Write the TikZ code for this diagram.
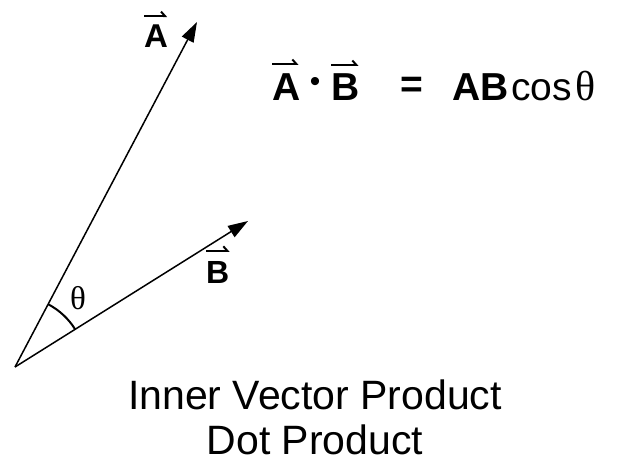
\documentclass[tikz,border=0pt]{standalone}
\usepackage{fontspec}
\setmainfont{Liberation Sans}
\newfontfamily\greekserif{Liberation Serif}
\usetikzlibrary{arrows.meta}
\begin{document}
\begin{tikzpicture}[x=1pt,y=1pt,
  vecline/.style={line width=1.5pt,-{Triangle[length=20pt,width=13pt]}},
  lbl/.style={inner sep=0pt, anchor=base west},
  harp/.style={line width=2pt,-{Straight Barb[harpoon,length=4pt,width=9pt]}},
  boldbig/.style={font=\bfseries\fontsize{39}{44}\selectfont},
  caption/.style={inner sep=0pt, anchor=base, font=\fontsize{41}{47}\selectfont}]
\useasboundingbox (0,0) rectangle (617,464);
% vectors
\coordinate (O) at (15,97);
\coordinate (Atip) at (197,442);
\coordinate (Btip) at (248,243);
\draw[vecline] (O) -- (Atip);
\draw[vecline] (O) -- (Btip);
\draw[line width=2pt] ([shift={(32.07:71)}]O) arc[start angle=32.07,end angle=62.19,radius=71];
\node[inner sep=0pt, font=\greekserif\fontsize{33}{36}\selectfont] (th) at (78,166) {θ};
% vector labels
\node[lbl, font=\bfseries\fontsize{33}{38}\selectfont] (la) at (144,416) {A};
\draw[harp] ([yshift=9pt]la.north west) -- ([yshift=9pt,xshift=-1pt]la.north east);
\node[lbl, font=\bfseries\fontsize{32}{36}\selectfont] (lb) at (206,181) {B};
\draw[harp] ([yshift=10pt]lb.north west) -- ([yshift=10pt]lb.north east);
% equation
\node[lbl, boldbig] (eA) at (272,363) {A};
\draw[harp] ([yshift=10pt]eA.north west) -- ([yshift=10pt,xshift=-2pt]eA.north east);
\node[inner sep=0pt, font=\fontsize{30}{34}\selectfont] (dot) at (315,380) {•};
\node[lbl, boldbig] (eB) at (331,363) {B};
\draw[harp] ([yshift=9pt]eB.north west) -- ([yshift=9pt,xshift=-1pt]eB.north east);
\node[inner sep=0pt, boldbig] (eq) at (412,377) {=};
\node[lbl, boldbig] (AB) at (452,363) {AB};
\node[lbl, font=\fontsize{39}{44}\selectfont] (cos) at (511,363) {cos};
\node[lbl, font=\greekserif\fontsize{42}{46}\selectfont] (eth) at (575,363) {θ};
% caption
\node[caption] (c1) at (315,55) {Inner Vector Product};
\node[caption] (c2) at (315,10) {Dot Product};
\end{tikzpicture}
\end{document}
